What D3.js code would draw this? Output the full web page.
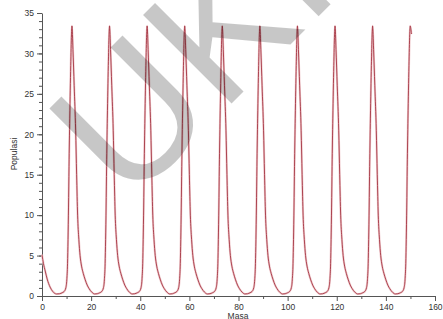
<!DOCTYPE html>
<html>
<head>
<meta charset="utf-8">
<script src="https://cdn.jsdelivr.net/npm/d3@7"></script>
<style>
  body { margin: 0; background: #fff; }
  svg { display: block; }
  .axis path, .axis line { stroke: #555; }
  .axis text { font-family: "Liberation Sans", Arial, sans-serif; font-size: 8.5px; fill: #333; }
</style>
</head>
<body>
<div id="chart"></div>
<script>
// values, one line per cycle
var masa = [
  0, 0.6, 1.3, 2.1, 3.3, 4.4, 5.9,
  7.2, 8.2, 9.0, 9.7, 10.1, 10.4, 10.6, 10.8, 11.0, 11.3, 11.7, 12.0, 12.2, 12.6, 13.1, 13.7, 14.1, 14.5, 15.0, 15.5, 16.1, 16.8, 17.6, 18.4, 19.2, 20.2, 21.4,
  22.5, 23.5, 24.3, 25.0, 25.4, 25.7, 25.9, 26.1, 26.3, 26.6, 27.0, 27.3, 27.5, 27.9, 28.4, 29.0, 29.4, 29.8, 30.3, 30.8, 31.4, 32.1, 32.9, 33.7, 34.5, 35.5, 36.7,
  37.8, 38.8, 39.6, 40.3, 40.7, 41.0, 41.2, 41.4, 41.6, 41.9, 42.3, 42.6, 42.8, 43.2, 43.7, 44.3, 44.7, 45.1, 45.6, 46.1, 46.7, 47.4, 48.2, 49.0, 49.8, 50.8, 52.0,
  53.1, 54.1, 54.9, 55.6, 56.0, 56.3, 56.5, 56.7, 56.9, 57.2, 57.6, 57.9, 58.1, 58.5, 59.0, 59.6, 60.0, 60.4, 60.9, 61.4, 62.0, 62.7, 63.5, 64.3, 65.1, 66.1, 67.3,
  68.4, 69.4, 70.2, 70.9, 71.3, 71.6, 71.8, 72.0, 72.2, 72.5, 72.9, 73.2, 73.4, 73.8, 74.3, 74.9, 75.3, 75.7, 76.2, 76.7, 77.3, 78.0, 78.8, 79.6, 80.4, 81.4, 82.6,
  83.7, 84.7, 85.5, 86.2, 86.6, 86.9, 87.1, 87.3, 87.5, 87.8, 88.2, 88.5, 88.7, 89.1, 89.6, 90.2, 90.6, 91.0, 91.5, 92.0, 92.6, 93.3, 94.1, 94.9, 95.7, 96.7, 97.9,
  99.0, 100.0, 100.8, 101.5, 101.9, 102.2, 102.4, 102.6, 102.8, 103.1, 103.5, 103.8, 104.0, 104.4, 104.9, 105.5, 105.9, 106.3, 106.8, 107.3, 107.9, 108.6, 109.4, 110.2, 111.0, 112.0, 113.2,
  114.3, 115.3, 116.1, 116.8, 117.2, 117.5, 117.7, 117.9, 118.1, 118.4, 118.8, 119.1, 119.3, 119.7, 120.2, 120.8, 121.2, 121.6, 122.1, 122.6, 123.2, 123.9, 124.7, 125.5, 126.3, 127.3, 128.5,
  129.6, 130.6, 131.4, 132.1, 132.5, 132.8, 133.0, 133.2, 133.4, 133.7, 134.1, 134.4, 134.6, 135.0, 135.5, 136.1, 136.5, 136.9, 137.4, 137.9, 138.5, 139.2, 140.0, 140.8, 141.6, 142.6, 143.8,
  144.9, 145.9, 146.7, 147.4, 147.8, 148.1, 148.3, 148.5, 148.7, 149.0, 149.4, 149.7, 149.9, 150.4
];

var populasi = [
  5.1, 4.0, 3.1, 2.1, 1.1, 0.55, 0.25,
  0.28, 0.4, 0.55, 1.0, 2.0, 4.0, 7.0, 11, 16, 22, 28.5, 32.3, 33.4, 30.5, 26, 20.5, 15, 10, 7.0, 5.0, 3.7, 2.8, 2.0, 1.35, 0.9, 0.5, 0.25,
  0.28, 0.4, 0.55, 1.0, 2.0, 4.0, 7.0, 11, 16, 22, 28.5, 32.3, 33.4, 30.5, 26, 20.5, 15, 10, 7.0, 5.0, 3.7, 2.8, 2.0, 1.35, 0.9, 0.5, 0.25,
  0.28, 0.4, 0.55, 1.0, 2.0, 4.0, 7.0, 11, 16, 22, 28.5, 32.3, 33.4, 30.5, 26, 20.5, 15, 10, 7.0, 5.0, 3.7, 2.8, 2.0, 1.35, 0.9, 0.5, 0.25,
  0.28, 0.4, 0.55, 1.0, 2.0, 4.0, 7.0, 11, 16, 22, 28.5, 32.3, 33.4, 30.5, 26, 20.5, 15, 10, 7.0, 5.0, 3.7, 2.8, 2.0, 1.35, 0.9, 0.5, 0.25,
  0.28, 0.4, 0.55, 1.0, 2.0, 4.0, 7.0, 11, 16, 22, 28.5, 32.3, 33.4, 30.5, 26, 20.5, 15, 10, 7.0, 5.0, 3.7, 2.8, 2.0, 1.35, 0.9, 0.5, 0.25,
  0.28, 0.4, 0.55, 1.0, 2.0, 4.0, 7.0, 11, 16, 22, 28.5, 32.3, 33.4, 30.5, 26, 20.5, 15, 10, 7.0, 5.0, 3.7, 2.8, 2.0, 1.35, 0.9, 0.5, 0.25,
  0.28, 0.4, 0.55, 1.0, 2.0, 4.0, 7.0, 11, 16, 22, 28.5, 32.3, 33.4, 30.5, 26, 20.5, 15, 10, 7.0, 5.0, 3.7, 2.8, 2.0, 1.35, 0.9, 0.5, 0.25,
  0.28, 0.4, 0.55, 1.0, 2.0, 4.0, 7.0, 11, 16, 22, 28.5, 32.3, 33.4, 30.5, 26, 20.5, 15, 10, 7.0, 5.0, 3.7, 2.8, 2.0, 1.35, 0.9, 0.5, 0.25,
  0.28, 0.4, 0.55, 1.0, 2.0, 4.0, 7.0, 11, 16, 22, 28.5, 32.3, 33.4, 30.5, 26, 20.5, 15, 10, 7.0, 5.0, 3.7, 2.8, 2.0, 1.35, 0.9, 0.5, 0.25,
  0.28, 0.4, 0.55, 1.0, 2.0, 4.0, 7.0, 11, 16, 22, 28.5, 32.3, 33.4, 32.4
];

var xTicks = [0, 20, 40, 60, 80, 100, 120, 140, 160];
var yTicks = [0, 5, 10, 15, 20, 25, 30, 35];

var width = 443, height = 319;

var svg = d3.select("#chart").append("svg")
  .attr("width", width)
  .attr("height", height);

var x = d3.scaleLinear().domain([0, 160]).range([42, 435]);
var y = d3.scaleLinear().domain([0, 35]).range([296, 13]);

// minor ticks first so the major ones sit on top
svg.append("g")
  .attr("class", "axis")
  .attr("transform", "translate(0,296)")
  .call(d3.axisBottom(x).tickValues(d3.range(10, 160, 20)).tickSize(3).tickFormat(""))
  .select(".domain").remove();

svg.append("g")
  .attr("class", "axis")
  .attr("transform", "translate(42,0)")
  .call(d3.axisLeft(y).tickValues(d3.range(0, 36, 1)).tickSize(3).tickFormat(""))
  .select(".domain").remove();

svg.append("g")
  .attr("class", "axis")
  .attr("transform", "translate(0,296)")
  .call(d3.axisBottom(x).tickValues(xTicks).tickSize(5).tickSizeOuter(0).tickPadding(3));

svg.append("g")
  .attr("class", "axis")
  .attr("transform", "translate(42,0)")
  .call(d3.axisLeft(y).tickValues(yTicks).tickSize(5).tickSizeOuter(0).tickPadding(3));

var points = masa.map(function (m, i) { return [m, populasi[i]]; });

var line = d3.line()
  .x(function (d) { return x(d[0]); })
  .y(function (d) { return y(d[1]); })
  .curve(d3.curveMonotoneX);

// soft pink halo under the line, like the blurred original
svg.append("path")
  .datum(points)
  .attr("fill", "none")
  .attr("stroke", "#f0cdd0")
  .attr("stroke-width", 2.2)
  .attr("d", line);

svg.append("path")
  .datum(points)
  .attr("fill", "none")
  .attr("stroke", "#a02c3a")
  .attr("stroke-width", 0.85)
  .attr("d", line);

svg.append("text")
  .attr("x", 238)
  .attr("y", 318.5)
  .attr("text-anchor", "middle")
  .style("font-family", "Liberation Sans, Arial, sans-serif")
  .style("font-size", "8.5px")
  .style("fill", "#333")
  .text("Masa");

svg.append("text")
  .attr("transform", "translate(16.5,154) rotate(-90)")
  .attr("text-anchor", "middle")
  .style("font-family", "Liberation Sans, Arial, sans-serif")
  .style("font-size", "8.5px")
  .style("fill", "#333")
  .text("Populasi");

// watermark laid over the plot
svg.append("text")
  .attr("transform", "translate(128,207) rotate(-45)")
  .style("font-family", "Liberation Sans, Arial, sans-serif")
  .style("font-size", "182px")
  .style("fill", "#000")
  .style("fill-opacity", 0.22)
  .text("UKI");
</script>
</body>
</html>
